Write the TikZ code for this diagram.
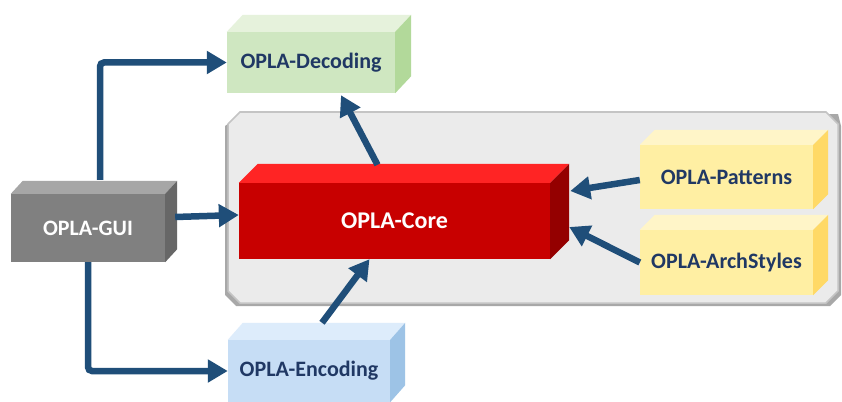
\documentclass[tikz,border=0pt]{standalone}
\usepackage{fontspec}
\setmainfont{Carlito}
\usetikzlibrary{arrows.meta}
\definecolor{arrowblue}{HTML}{1F4E79}
\definecolor{txtblue}{HTML}{203864}
\definecolor{contfill}{HTML}{EBEBEB}
\definecolor{contline}{HTML}{C4C4C4}
\definecolor{contshadow}{HTML}{A8A8A8}
\definecolor{decF}{HTML}{CFE7C1}\definecolor{decT}{HTML}{E6F2DC}\definecolor{decR}{HTML}{B2D99A}
\definecolor{guiF}{HTML}{808080}\definecolor{guiT}{HTML}{A6A6A6}\definecolor{guiR}{HTML}{676767}
\definecolor{coreF}{HTML}{C80000}\definecolor{coreT}{HTML}{FF2424}\definecolor{coreR}{HTML}{940000}
\definecolor{patF}{HTML}{FFEFA3}\definecolor{patT}{HTML}{FFF5C8}\definecolor{patR}{HTML}{FFD966}
\definecolor{encF}{HTML}{C6DDF5}\definecolor{encT}{HTML}{DDECFB}\definecolor{encR}{HTML}{9DC3E6}
\newcommand{\cubefaces}[5]{%
  \fill[#4] (#1.north west) -- ([shift={(#2,-#3)}]#1.north west) -- ([shift={(#2,-#3)}]#1.north east) -- (#1.north east) -- cycle;
  \fill[#5] (#1.north east) -- ([shift={(#2,-#3)}]#1.north east) -- ([shift={(#2,-#3)}]#1.south east) -- (#1.south east) -- cycle;
}
\tikzset{
  cubebox/.style={rectangle, inner sep=0pt, font=\fontsize{22}{24}\selectfont\bfseries, text=txtblue},
  conn/.style={draw=arrowblue, line width=6.5pt, -{Triangle[length=20pt,width=22pt]}, rounded corners=4pt},
}
\begin{document}
\begin{tikzpicture}[x=1pt,y=-1pt]
\useasboundingbox (0,0) rectangle (842,401);
\fill[white] (0,0) rectangle (842,401);
% container
\fill[contshadow] (242,114) -- (838,114) -- (841,126) -- (841,295) -- (830,306) -- (236,306) -- (225,295) -- (225,126) -- cycle;
\filldraw[fill=contfill, draw=contline, line width=1.5pt] (240,112) -- (826,112) -- (838,124) -- (838,291) -- (826,303) -- (240,303) -- (228,291) -- (228,124) -- cycle;
% nodes
\node[cubebox, fill=guiF, text=white, minimum width=154pt, minimum height=68pt] (gui) at (88,228) {OPLA-GUI};
\node[cubebox, fill=decF, minimum width=168pt, minimum height=61pt] (dec) at (311,62.5) {OPLA-Decoding};
\node[cubebox, fill=coreF, text=white, minimum width=311pt, minimum height=76pt, font=\fontsize{24}{26}\selectfont\bfseries] (core) at (394.5,221) {OPLA-Core};
\node[cubebox, fill=patF, minimum width=173pt, minimum height=64pt] (pat) at (726.5,177) {OPLA-Patterns};
\node[cubebox, fill=patF, minimum width=173pt, minimum height=65pt] (arch) at (726.5,262.5) {OPLA-ArchStyles};
\node[cubebox, fill=encF, minimum width=162pt, minimum height=62pt] (enc) at (309,371) {OPLA-Encoding};
\cubefaces{gui}{12}{13}{guiT}{guiR}
\cubefaces{dec}{16}{17}{decT}{decR}
\cubefaces{core}{19}{19}{coreT}{coreR}
\cubefaces{pat}{15}{15}{patT}{patR}
\cubefaces{arch}{15}{15}{patT}{patR}
\cubefaces{enc}{15}{17}{encT}{encR}
% connectors
\draw[conn] ([xshift=12pt,yshift=14pt]gui.north) |- (dec.west);
\draw[conn] (gui.south) |- (enc.west);
\draw[conn] ([xshift=10pt,yshift=11pt]gui.east) -- ([yshift=6pt]core.west);
\draw[conn] ([xshift=-17pt,yshift=18pt]core.north) -- ([xshift=30pt,yshift=-2pt]dec.south);
\draw[conn] ([xshift=13pt,yshift=17pt]enc.north) -- ([xshift=-25pt]core.south);
\draw[conn] ([yshift=-3pt]pat.west) -- ([xshift=20pt,yshift=30pt]core.east);
\draw[conn] (arch.west) -- ([xshift=19pt,yshift=-6pt]core.east);
\end{tikzpicture}
\end{document}
